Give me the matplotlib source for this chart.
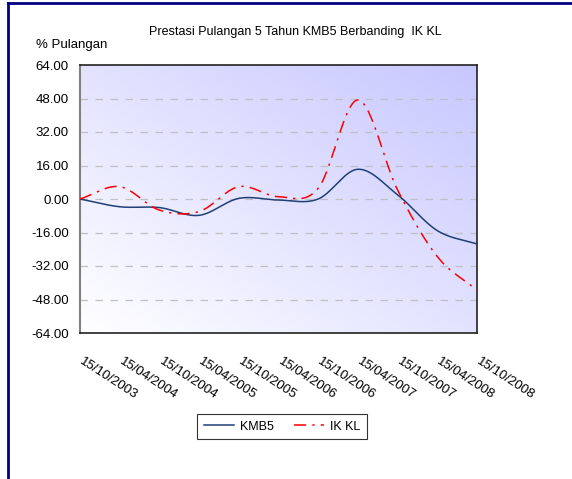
import numpy as np
import matplotlib
matplotlib.use("Agg")
import matplotlib.pyplot as plt
import matplotlib.transforms as mtransforms
from matplotlib.lines import Line2D

plt.rcParams['font.family'] = ['Liberation Sans Narrow', 'Liberation Sans', 'DejaVu Sans']

# data
dates = ['15/10/2003', '15/04/2004', '15/10/2004', '15/04/2005', '15/10/2005',
         '15/04/2006', '15/10/2006', '15/04/2007', '15/10/2007', '15/04/2008',
         '15/10/2008']
kmb5 = [0.0, -3.7, -4.1, -7.8, 0.3, -0.5, 0.0, 14.2, 2.0, -15.1, -21.5]
ikkl = [0.0, 5.9, -5.3, -6.0, 5.9, 1.1, 5.1, 47.3, 4.3, -27.5, -43.5]
yticks = [64, 48, 32, 16, 0, -16, -32, -48, -64]


def smooth(y, n=30):
    # Catmull-Rom style smoothing, like Excel's smoothed line
    y = np.asarray(y, dtype=float)
    x = np.arange(len(y), dtype=float)
    m = np.gradient(y, x)
    xs, ys = [], []
    for i in range(len(y) - 1):
        t = np.linspace(0, 1, n, endpoint=False)
        h00 = 2 * t**3 - 3 * t**2 + 1
        h10 = t**3 - 2 * t**2 + t
        h01 = -2 * t**3 + 3 * t**2
        h11 = t**3 - t**2
        xs.append(x[i] + t)
        ys.append(h00 * y[i] + h10 * m[i] + h01 * y[i + 1] + h11 * m[i + 1])
    xs.append([x[-1]])
    ys.append([y[-1]])
    return np.concatenate(xs), np.concatenate(ys)


fig = plt.figure(figsize=(5.72, 4.79), dpi=100)
ax = fig.add_axes([80 / 572, 1 - 333 / 479, 397 / 572, 268 / 479])

# gradient background: white bottom-left to lavender top-right
gx, gy = np.meshgrid(np.linspace(0, 1, 200), np.linspace(0, 1, 200))
g = (gx + gy) / 2
c0 = np.array([1.0, 1.0, 1.0])
c1 = np.array([0.78, 0.78, 1.0])
img = c0 + (c1 - c0) * g[..., None]
ax.imshow(img, extent=[0, len(dates) - 1, -64, 64], origin='lower',
          aspect='auto', zorder=0)

for v in yticks[1:-1]:
    ax.axhline(v, color='#c0c0c0', lw=0.9, ls=(0, (6, 6)), zorder=1)

x1, y1 = smooth(kmb5)
x2, y2 = smooth(ikkl)
ax.plot(x1, y1, color='#1f3f77', lw=1.1, zorder=3)
ax.plot(x2, y2, color='#ff0000', lw=1.1, ls=(0, (8, 4, 1.5, 4)), zorder=3)

ax.set_xlim(0, len(dates) - 1)
ax.set_ylim(-64, 64)
ax.set_yticks(yticks)
ax.set_yticklabels([f'{v:.2f}' for v in yticks], fontsize=9.5)
ax.set_xticks(range(len(dates)))
ax.set_xticklabels(dates, fontsize=9.5, rotation=-33, ha='left', va='top',
                   rotation_mode='anchor')
ax.tick_params(axis='both', length=0)
ax.tick_params(axis='x', pad=16)
ax.tick_params(axis='y', pad=8)
shift = mtransforms.ScaledTranslation(0.04, 0, fig.dpi_scale_trans)
for lab in ax.get_xticklabels():
    lab.set_transform(lab.get_transform() + shift)
for s in ['top', 'right', 'bottom']:
    ax.spines[s].set_color('#222222')
    ax.spines[s].set_linewidth(1.2)
ax.spines['left'].set_color('#808080')
ax.spines['left'].set_linewidth(1.5)

fig.text(295 / 572, 1 - 32 / 479, 'Prestasi Pulangan 5 Tahun KMB5 Berbanding  IK KL',
         ha='center', va='center', fontsize=9)
fig.text(36 / 572, 1 - 45 / 479, '% Pulangan', ha='left', va='center', fontsize=9.5)

handles = [Line2D([], [], color='#1f3f77', lw=1.1),
           Line2D([], [], color='#ff0000', lw=1.1, ls=(0, (8, 4, 1.5, 4)))]
leg = fig.legend(handles, ['KMB5', 'IK KL'], loc='center',
                 bbox_to_anchor=(282 / 572, 1 - 426.5 / 479), ncol=2,
                 fontsize=9, frameon=True, fancybox=False, handlelength=2.4,
                 handletextpad=0.5, columnspacing=1.6, borderpad=0.55)
leg.get_frame().set_edgecolor('#000000')
leg.get_frame().set_linewidth(0.8)

# navy frame on top and left of the figure
fig.add_artist(Line2D([8 / 572, 8 / 572], [0, 1 - 3 / 479], color='#000080',
                      lw=2, transform=fig.transFigure))
fig.add_artist(Line2D([8 / 572, 1], [1 - 3 / 479, 1 - 3 / 479], color='#000080',
                      lw=2, transform=fig.transFigure))

fig.savefig('out.png', dpi=100)
